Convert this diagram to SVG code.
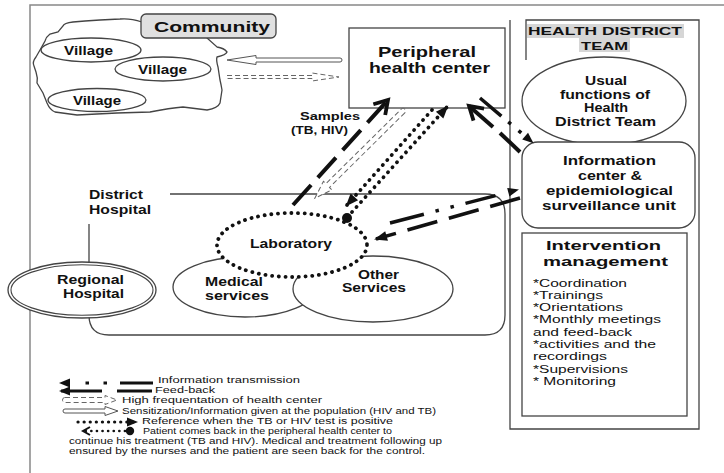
<svg xmlns="http://www.w3.org/2000/svg" width="724" height="473" viewBox="0 0 724 473">
<defs>
<style>
.t{font-family:"Liberation Sans",Arial,sans-serif;fill:#111}
.b{font-weight:bold}
.sh{fill:#fff;stroke:#444;stroke-width:1.3}
.ln{fill:none;stroke:#444;stroke-width:1.3}
.frame{fill:none;stroke:#888;stroke-width:1.5}
.fb{fill:none;stroke:#111;stroke-width:4}
.it{fill:none;stroke:#111;stroke-width:3.5}
.dot{fill:none;stroke:#111;stroke-width:3.8;stroke-linecap:round;stroke-dasharray:0.1 6.6}
.hol{fill:#fff;stroke:#555;stroke-width:1}
.hold{fill:#fff;stroke:#666;stroke-width:1;stroke-dasharray:5 3}
</style>
<marker id="chev" markerUnits="userSpaceOnUse" orient="auto" overflow="visible" refX="0" refY="0">
<path d="M-13,-8 L0,0 L-13,8" fill="none" stroke="#111" stroke-width="3.8"/>
</marker>
<marker id="tri" markerUnits="userSpaceOnUse" orient="auto" overflow="visible" refX="0" refY="0">
<path d="M2,0 L-11,-5 L-11,5 Z" fill="#111"/>
</marker>
<marker id="tris" markerUnits="userSpaceOnUse" orient="auto" overflow="visible" refX="0" refY="0">
<path d="M2,0 L-9,-4.5 L-9,4.5 Z" fill="#111"/>
</marker>
<marker id="chs" markerUnits="userSpaceOnUse" orient="auto" overflow="visible" refX="0" refY="0">
<path d="M-7,-4 L0,0 L-7,4" fill="none" stroke="#111" stroke-width="2"/>
</marker>
</defs>
<rect width="724" height="473" fill="#fff"/>
<path class="frame" d="M30,473 V5 H724"/>

<g id="community">
<path class="sh" d="M142,22 Q130,18 120,19 L100,20 L85,21 L73,22 Q64,23 63,26 L58,32 L50,34 Q46,37 45,41 L40,50 L36,57 Q32,62 34,66 L36,72 Q38,78 37,83 L43,93 L47,103 Q50,110 55,112 L77,115 L117,113 L150,112 Q170,108 183,107 L207,110 Q218,108 220,103 L222,90 Q221,84 220,80 L218,67 Q216,60 217,57 Q226,55 227,52 Q224,48 217,47 L207,38 L207,30 L142,30 Z"/>
<rect x="141" y="14" width="135" height="24" rx="5" fill="#e0e0e0" stroke="#444" stroke-width="1.3"/>
<text class="t b" x="154" y="31.5" font-size="14.5" textLength="116" lengthAdjust="spacingAndGlyphs">Community</text>
</g>
<g id="village1">
<ellipse class="sh" cx="91" cy="50" rx="50" ry="12"/>
<text class="t b" x="64" y="54.5" font-size="12.5" textLength="49" lengthAdjust="spacingAndGlyphs">Village</text>
</g>
<g id="village2">
<ellipse class="sh" cx="163" cy="69" rx="48" ry="12"/>
<text class="t b" x="138" y="73.5" font-size="12.5" textLength="49" lengthAdjust="spacingAndGlyphs">Village</text>
</g>
<g id="village3">
<ellipse class="sh" cx="97" cy="100" rx="49" ry="11.5"/>
<text class="t b" x="73" y="104.5" font-size="12.5" textLength="48" lengthAdjust="spacingAndGlyphs">Village</text>
</g>

<g id="peripheral-health-center">
<rect class="sh" x="349" y="28" width="156" height="80"/>
<text class="t b" x="378" y="56.5" font-size="15.5" textLength="98" lengthAdjust="spacingAndGlyphs">Peripheral</text>
<text class="t b" x="369" y="72.5" font-size="15.5" textLength="121" lengthAdjust="spacingAndGlyphs">health center</text>
</g>

<g id="health-district-team">
<path class="ln" d="M510,20 V429 H699 V20 H526 V60"/>
<rect x="527" y="24" width="157" height="14" fill="#d6d6d6"/>
<rect x="579" y="38" width="51" height="14" fill="#d6d6d6"/>
<text class="t b" x="528" y="35" font-size="11.5" textLength="154" lengthAdjust="spacingAndGlyphs">HEALTH DISTRICT</text>
<text class="t b" x="581" y="50" font-size="11.5" textLength="47" lengthAdjust="spacingAndGlyphs">TEAM</text>
</g>
<g id="usual-functions">
<ellipse class="sh" cx="604" cy="101" rx="82" ry="44"/>
<text class="t b" x="585" y="84.5" font-size="12.5" textLength="42" lengthAdjust="spacingAndGlyphs">Usual</text>
<text class="t b" x="560" y="98.5" font-size="12.5" textLength="90" lengthAdjust="spacingAndGlyphs">functions of</text>
<text class="t b" x="584" y="112" font-size="12.5" textLength="44" lengthAdjust="spacingAndGlyphs">Health</text>
<text class="t b" x="555" y="125.5" font-size="12.5" textLength="101" lengthAdjust="spacingAndGlyphs">District Team</text>
</g>
<g id="information-center">
<rect class="sh" x="522" y="142" width="173" height="86" rx="16"/>
<text class="t b" x="563" y="165" font-size="13.5" textLength="93" lengthAdjust="spacingAndGlyphs">Information</text>
<text class="t b" x="578" y="180" font-size="13.5" textLength="64" lengthAdjust="spacingAndGlyphs">center &amp;</text>
<text class="t b" x="546" y="195" font-size="13.5" textLength="127" lengthAdjust="spacingAndGlyphs">epidemiological</text>
<text class="t b" x="542" y="210" font-size="13.5" textLength="134" lengthAdjust="spacingAndGlyphs">surveillance unit</text>
</g>
<g id="intervention-management">
<rect class="sh" x="522" y="233" width="165" height="183"/>
<text class="t b" x="546" y="250" font-size="13.5" textLength="115" lengthAdjust="spacingAndGlyphs">Intervention</text>
<text class="t b" x="543" y="266" font-size="13.5" textLength="125" lengthAdjust="spacingAndGlyphs">management</text>
<g class="t" font-size="11.5">
<text x="533" y="286.5" textLength="94" lengthAdjust="spacingAndGlyphs">*Coordination</text>
<text x="533" y="298.8" textLength="70" lengthAdjust="spacingAndGlyphs">*Trainings</text>
<text x="533" y="311.1" textLength="90" lengthAdjust="spacingAndGlyphs">*Orientations</text>
<text x="533" y="323.4" textLength="128" lengthAdjust="spacingAndGlyphs">*Monthly meetings</text>
<text x="533" y="335.7" textLength="99" lengthAdjust="spacingAndGlyphs">and feed-back</text>
<text x="533" y="348" textLength="123" lengthAdjust="spacingAndGlyphs">*activities and the</text>
<text x="533" y="360.3" textLength="74" lengthAdjust="spacingAndGlyphs">recordings</text>
<text x="533" y="372.6" textLength="95" lengthAdjust="spacingAndGlyphs">*Supervisions</text>
<text x="533" y="384.9" textLength="83" lengthAdjust="spacingAndGlyphs">* Monitoring</text>
</g>
</g>

<g id="district-hospital">
<path class="ln" d="M170,194 H485 Q505,194 505,214 V315 Q505,335 485,335 H109 Q89,335 89,315 V224"/>
<text class="t b" x="89" y="199" font-size="12.5" textLength="54" lengthAdjust="spacingAndGlyphs">District</text>
<text class="t b" x="89" y="213.5" font-size="12.5" textLength="62" lengthAdjust="spacingAndGlyphs">Hospital</text>
</g>
<g id="regional-hospital">
<ellipse class="sh" cx="82" cy="290" rx="74" ry="28"/>
<ellipse fill="none" stroke="#444" stroke-width="1.1" cx="82" cy="290" rx="71" ry="25.3"/>
<text class="t b" x="57" y="283.5" font-size="12.5" textLength="67" lengthAdjust="spacingAndGlyphs">Regional</text>
<text class="t b" x="63" y="297.5" font-size="12.5" textLength="61" lengthAdjust="spacingAndGlyphs">Hospital</text>
</g>
<g id="medical-services">
<ellipse class="sh" cx="245" cy="287" rx="72" ry="30"/>
<text class="t b" x="205" y="286" font-size="12.5" textLength="58" lengthAdjust="spacingAndGlyphs">Medical</text>
<text class="t b" x="205" y="300" font-size="12.5" textLength="64" lengthAdjust="spacingAndGlyphs">services</text>
</g>
<g id="other-services">
<ellipse class="sh" cx="373" cy="289" rx="80" ry="33"/>
<text class="t b" x="358" y="278.5" font-size="12.5" textLength="41" lengthAdjust="spacingAndGlyphs">Other</text>
<text class="t b" x="342" y="292" font-size="12.5" textLength="64" lengthAdjust="spacingAndGlyphs">Services</text>
</g>
<g id="laboratory">
<ellipse cx="292" cy="245" rx="75" ry="32" fill="#fff" stroke="#111" stroke-width="3.8" stroke-linecap="round" stroke-dasharray="0.1 6.6"/>
<text class="t b" x="250" y="248" font-size="12.5" textLength="82" lengthAdjust="spacingAndGlyphs">Laboratory</text>
</g>

<g id="connectors">
<path class="hol" d="M340,58 H256 V55.5 L227,60 L256,64.5 V62 H340 A2,2 0 0 0 340,58 Z"/>
<path class="hold" d="M227,75.5 H312 V73 L339,77 L312,81 V78.5 H227"/>
<g transform="translate(403,111) rotate(135.3)">
<path class="hold" d="M0,-2.6 H106 V-6 L124,0 L106,6 V2.6 H0 A2.6,2.6 0 0 1 0,-2.6 Z"/>
</g>
<text class="t b" x="300" y="120" font-size="11.5" textLength="60" lengthAdjust="spacingAndGlyphs">Samples</text>
<text class="t b" x="291" y="134" font-size="11.5" textLength="57" lengthAdjust="spacingAndGlyphs">(TB, HIV)</text>
<line class="fb" x1="293" y1="205" x2="388" y2="100" stroke-dasharray="27 10" marker-end="url(#chev)"/>
<line class="dot" x1="432" y1="110" x2="347" y2="205" marker-end="url(#tri)"/>
<line class="dot" x1="352" y1="212" x2="447" y2="107" marker-end="url(#tri)"/>
<circle cx="347" cy="218" r="5" fill="#111"/>
<line class="it" x1="480" y1="98" x2="532" y2="142" stroke-dasharray="28 9 3.5 10 3.5 60" marker-end="url(#tris)"/>
<line class="fb" x1="520" y1="152" x2="500" y2="133"/>
<line class="fb" x1="493" y1="127" x2="469" y2="106" marker-end="url(#chev)"/>
<line class="it" x1="390" y1="223" x2="517" y2="190" stroke-dasharray="35 12 3.5 12 3.5 12 31 60" marker-end="url(#tris)"/>
<line class="it" x1="520" y1="198" x2="376" y2="239" stroke-dasharray="31 12" marker-end="url(#tri)"/>
</g>

<g id="legend">
<line x1="153" y1="383" x2="61" y2="383" stroke="#111" stroke-width="3" stroke-dasharray="33 13 3.5 14.5 3.5 100" marker-end="url(#tris)"/>
<line x1="152" y1="391" x2="61" y2="391" stroke="#111" stroke-width="3" stroke-dasharray="35 15 100" marker-end="url(#tris)"/>
<path class="hold" stroke-dasharray="4 2.5" d="M65,397.5 H105 V395.5 L117,400 L105,404.5 V402.5 H65 A2.5,2.5 0 0 1 65,397.5 Z"/>
<path class="hol" d="M65,409 H105 V406.5 L118,411 L105,415.5 V413 H65 A2,2 0 0 1 65,409 Z"/>
<line x1="78" y1="422" x2="136" y2="422" stroke="#111" stroke-width="3.2" stroke-linecap="round" stroke-dasharray="0.1 6" marker-end="url(#tris)"/>
<line x1="125" y1="431" x2="83" y2="431" stroke="#111" stroke-width="2.6" stroke-linecap="round" stroke-dasharray="0.1 5.5" marker-end="url(#chs)"/>
<circle cx="130" cy="431" r="4.2" fill="#111"/>
<g class="t" font-size="8.5">
<text x="158" y="383" textLength="142" lengthAdjust="spacingAndGlyphs">Information transmission</text>
<text x="155" y="392.5" textLength="60" lengthAdjust="spacingAndGlyphs">Feed-back</text>
<text x="122" y="403" textLength="200" lengthAdjust="spacingAndGlyphs">High frequentation of health center</text>
<text x="122" y="413.5" textLength="314" lengthAdjust="spacingAndGlyphs">Sensitization/Information given at the population (HIV and TB)</text>
<text x="142" y="424" textLength="251" lengthAdjust="spacingAndGlyphs">Reference when the TB or HIV test is positive</text>
<text x="143" y="433.5" textLength="249" lengthAdjust="spacingAndGlyphs">Patient comes back in the peripheral health center to</text>
<text x="69" y="443.5" textLength="373" lengthAdjust="spacingAndGlyphs">continue his treatment (TB and HIV). Medical and treatment following up</text>
<text x="69" y="453.5" textLength="356" lengthAdjust="spacingAndGlyphs">ensured by the nurses and the patient are seen back for the control.</text>
</g>
</g>
</svg>
